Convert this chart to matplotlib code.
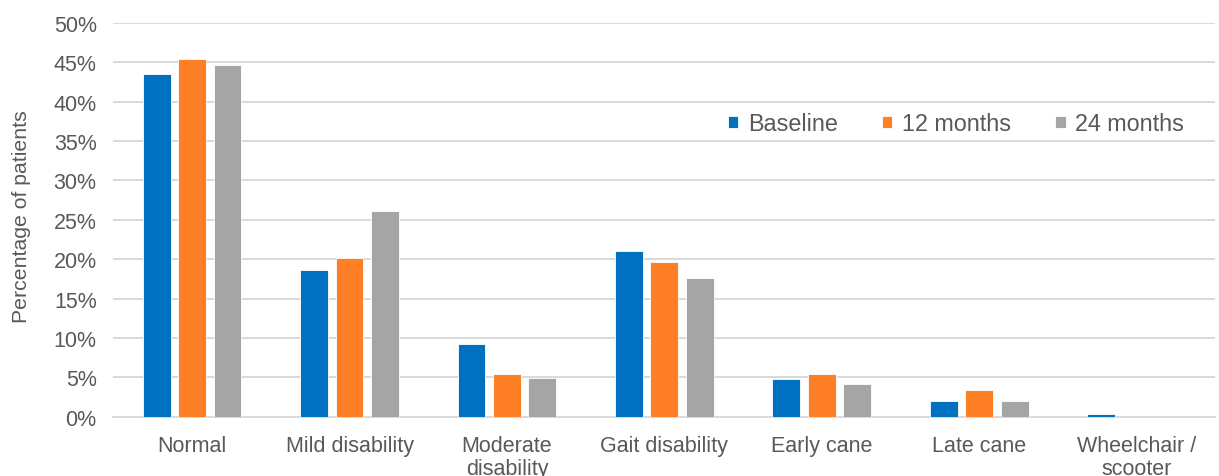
import numpy as np
import matplotlib.pyplot as plt
from matplotlib.ticker import PercentFormatter

plt.rcParams['font.family'] = ['Liberation Sans', 'DejaVu Sans']

# --- data ---
categories = ['Normal', 'Mild disability', 'Moderate\ndisability', 'Gait disability',
              'Early cane', 'Late cane', 'Wheelchair /\nscooter']
baseline = [43.5, 18.6, 9.3, 21.0, 4.8, 2.0, 0.4]
months_12 = [45.4, 20.2, 5.5, 19.7, 5.5, 3.4, 0.0]
months_24 = [44.6, 26.1, 4.9, 17.6, 4.2, 2.0, 0.0]
series_names = ['Baseline', '12 months', '24 months']
colors = ['#0070C0', '#FF7F27', '#A5A5A5']

TEXT = '#595959'

fig = plt.figure(figsize=(12.19, 4.77), dpi=100)
ax = fig.add_axes([0.093, 0.124, 0.904, 0.826])

x = np.arange(len(categories))
width = 0.177
step = 0.225
for i, (vals, name, col) in enumerate(zip([baseline, months_12, months_24], series_names, colors)):
    ax.bar(x + (i - 1) * step, vals, width, color=col, label=name,
           edgecolor='white', linewidth=0.6, zorder=3)

ax.set_xlim(-0.5, len(categories) - 0.5)
ax.set_ylim(0, 50)
ax.set_yticks(np.arange(0, 51, 5))
ax.yaxis.set_major_formatter(PercentFormatter(decimals=0))
ax.set_xticks(x)
ax.set_xticklabels(categories, linespacing=1.1)
ax.tick_params(axis='both', length=0, labelsize=15.5, colors=TEXT)
ax.tick_params(axis='x', pad=13)
ax.tick_params(axis='y', pad=12)
ax.set_ylabel('Percentage of patients', fontsize=15.3, color=TEXT)
ax.yaxis.set_label_coords(-0.075, 0.51)

ax.grid(axis='y', color='#D9D9D9', linewidth=1.4, zorder=0)
for side in ['top', 'right', 'left']:
    ax.spines[side].set_visible(False)
ax.spines['bottom'].set_color('#D9D9D9')
ax.spines['bottom'].set_linewidth(1.4)

ax.legend(loc='center left', bbox_to_anchor=(0.547, 0.744), ncol=3, frameon=False,
          fontsize=16.8, handlelength=0.45, handleheight=0.45, handletextpad=0.4,
          columnspacing=1.9, borderpad=0, labelcolor=TEXT)

fig.savefig('out.png', dpi=100)
